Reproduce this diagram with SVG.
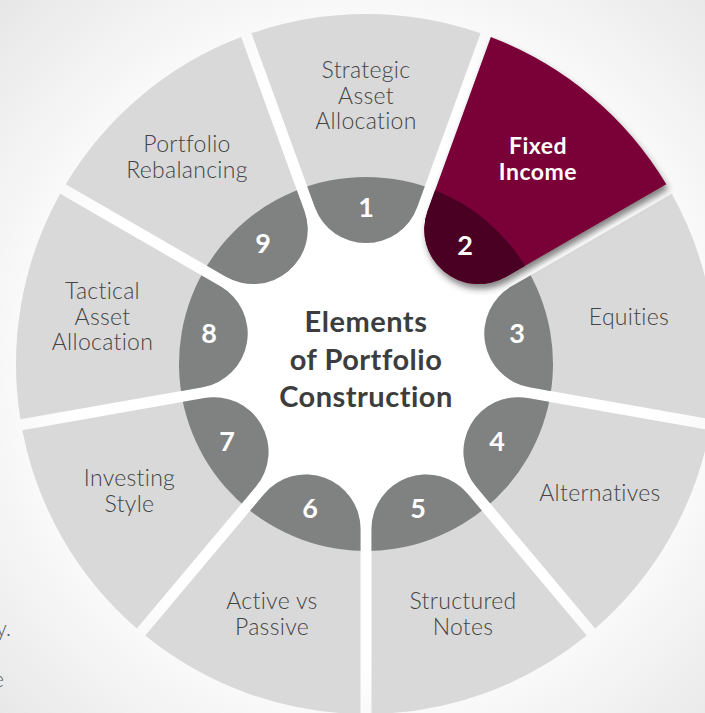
<svg xmlns="http://www.w3.org/2000/svg" xmlns:xlink="http://www.w3.org/1999/xlink" width="705" height="713" viewBox="0 0 705 713">
<defs>
<radialGradient id="bg" cx="366" cy="364" r="540" gradientUnits="userSpaceOnUse">
<stop offset="0.55" stop-color="#ffffff"/>
<stop offset="1" stop-color="#e4e4e4"/>
</radialGradient>
<path id="seg" d="M251.48 33.27 A350 350 0 0 1 480.52 33.27 L417.25 207.12 A54.54 54.54 0 0 1 314.75 207.12 Z"/>
<clipPath id="inner"><circle cx="366" cy="364" r="187"/></clipPath>
<filter id="shadow" x="-20%" y="-20%" width="140%" height="140%">
<feDropShadow dx="2" dy="5" stdDeviation="3" flood-color="#333" flood-opacity="0.6"/>
</filter>
<style>
.light{fill:#d9d9d9}
.dark{fill:#808281}
.hl{fill:#7a0038}
.hldark{fill:#4a0023}
.lbl{font-family:Lato,"Liberation Sans",sans-serif;font-weight:300;font-size:23px;letter-spacing:0.3px;fill:#444444;text-anchor:middle}
.num{font-family:Lato,"Liberation Sans",sans-serif;font-weight:700;font-size:27px;fill:#ffffff;text-anchor:middle}
.fi{font-family:Lato,"Liberation Sans",sans-serif;font-weight:700;font-size:23px;letter-spacing:0.5px;fill:#ffffff;text-anchor:middle}
.ctr{font-family:Lato,"Liberation Sans",sans-serif;font-weight:700;font-size:29px;letter-spacing:0.5px;fill:#3d3d3d;text-anchor:middle}
.side{font-family:Lato,"Liberation Sans",sans-serif;font-weight:300;font-size:21px;fill:#555555;text-anchor:end}
</style>
</defs>
<rect width="705" height="713" fill="url(#bg)"/>
<text class="side" x="11" y="636">y.</text>
<text class="side" x="4" y="687">e</text>
<g id="connectors"/>
<g id="seg1">
<use xlink:href="#seg" class="light"/>
<use xlink:href="#seg" class="dark" clip-path="url(#inner)"/>
<text class="num" x="366" y="217">1</text>
<text class="lbl" x="366" y="78">Strategic</text>
<text class="lbl" x="366" y="103.5">Asset</text>
<text class="lbl" x="366" y="129">Allocation</text>
</g>
<g id="seg3">
<use xlink:href="#seg" class="light" transform="rotate(80 366 364)"/>
<use xlink:href="#seg" class="dark" transform="rotate(80 366 364)" clip-path="url(#inner)"/>
<text class="num" x="517" y="343">3</text>
<text class="lbl" x="629" y="325">Equities</text>
</g>
<g id="seg4">
<use xlink:href="#seg" class="light" transform="rotate(120 366 364)"/>
<use xlink:href="#seg" class="dark" transform="rotate(120 366 364)" clip-path="url(#inner)"/>
<text class="num" x="497" y="451">4</text>
<text class="lbl" x="600" y="501">Alternatives</text>
</g>
<g id="seg5">
<use xlink:href="#seg" class="light" transform="rotate(160 366 364)"/>
<use xlink:href="#seg" class="dark" transform="rotate(160 366 364)" clip-path="url(#inner)"/>
<text class="num" x="418" y="518">5</text>
<text class="lbl" x="463" y="609">Structured</text>
<text class="lbl" x="463" y="635">Notes</text>
</g>
<g id="seg6">
<use xlink:href="#seg" class="light" transform="rotate(200 366 364)"/>
<use xlink:href="#seg" class="dark" transform="rotate(200 366 364)" clip-path="url(#inner)"/>
<text class="num" x="310" y="518">6</text>
<text class="lbl" x="272" y="609">Active vs</text>
<text class="lbl" x="272" y="635">Passive</text>
</g>
<g id="seg7">
<use xlink:href="#seg" class="light" transform="rotate(240 366 364)"/>
<use xlink:href="#seg" class="dark" transform="rotate(240 366 364)" clip-path="url(#inner)"/>
<text class="num" x="227" y="451">7</text>
<text class="lbl" x="129.5" y="486">Investing</text>
<text class="lbl" x="129.5" y="512">Style</text>
</g>
<g id="seg8">
<use xlink:href="#seg" class="light" transform="rotate(280 366 364)"/>
<use xlink:href="#seg" class="dark" transform="rotate(280 366 364)" clip-path="url(#inner)"/>
<text class="num" x="209" y="343">8</text>
<text class="lbl" x="102.5" y="299">Tactical</text>
<text class="lbl" x="102.5" y="324.5">Asset</text>
<text class="lbl" x="102.5" y="350">Allocation</text>
</g>
<g id="seg9">
<use xlink:href="#seg" class="light" transform="rotate(320 366 364)"/>
<use xlink:href="#seg" class="dark" transform="rotate(320 366 364)" clip-path="url(#inner)"/>
<text class="num" x="263" y="253">9</text>
<text class="lbl" x="187" y="152">Portfolio</text>
<text class="lbl" x="187" y="178">Rebalancing</text>
</g>
<g id="seg2">
<g filter="url(#shadow)">
<use xlink:href="#seg" class="hl" transform="rotate(40 366 364)"/>
</g>
<use xlink:href="#seg" class="hldark" transform="rotate(40 366 364)" clip-path="url(#inner)"/>
<text class="num" x="465" y="255">2</text>
<text class="fi" x="538" y="153.5">Fixed</text>
<text class="fi" x="538" y="180">Income</text>
</g>
<g id="center">
<text class="ctr" x="366" y="332">Elements</text>
<text class="ctr" x="366" y="370">of Portfolio</text>
<text class="ctr" x="366" y="407">Construction</text>
</g>
</svg>
